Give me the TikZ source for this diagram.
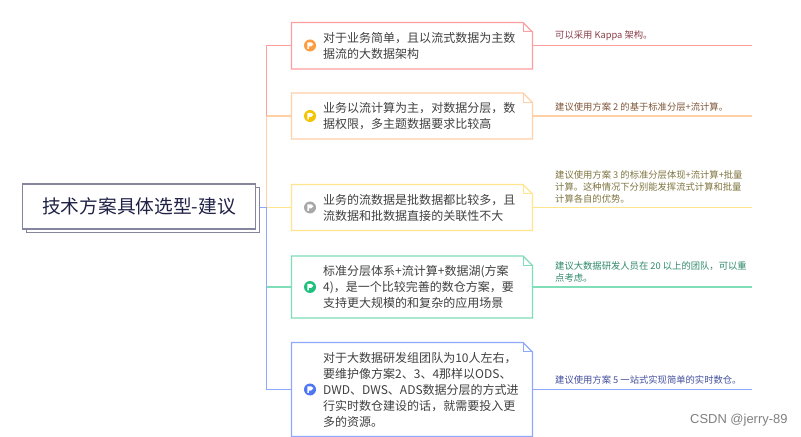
\documentclass[tikz,border=0pt]{standalone}
\usepackage{fontspec}
\setmainfont{Noto Sans CJK SC}
\newfontfamily\wmfont{Liberation Sans}
\definecolor{cpink}{HTML}{FF9E9E}
\definecolor{corange}{HTML}{FFCFA6}
\definecolor{cyellow}{HTML}{FFE68C}
\definecolor{cgreen}{HTML}{7FDDB8}
\definecolor{cblue}{HTML}{8FA8FF}
\definecolor{ipink}{HTML}{FF9C40}
\definecolor{iorange}{HTML}{F5C400}
\definecolor{iyellow}{HTML}{A8A8A8}
\definecolor{igreen}{HTML}{1FBF7C}
\definecolor{iblue}{HTML}{4F76F5}
\definecolor{tpink}{HTML}{8A3F4A}
\definecolor{torange}{HTML}{80573A}
\definecolor{tyellow}{HTML}{807540}
\definecolor{tgreen}{HTML}{2F8A6A}
\definecolor{tblue}{HTML}{44509E}
\definecolor{tmain}{HTML}{404040}
\definecolor{troot}{HTML}{1F2245}
\definecolor{rootline}{HTML}{85869E}
\tikzset{
  x=1bp,y=-1bp,
  boxanchor/.style={minimum width=241bp,minimum height=#1,inner sep=0pt,anchor=north west,outer sep=0pt},
  maintext/.style={anchor=west,align=left,inner sep=0pt,text=tmain,font=\fontsize{12.05}{16.05}\selectfont},
  sidetext/.style={anchor=south west,align=left,inner sep=0pt,font=\fontsize{9.35}{12}\selectfont},
  conn/.style={line width=1.1bp},
  rootbox/.style={draw=rootline,line width=1.1bp,fill=white,minimum width=233bp,minimum height=45bp,inner sep=0pt,anchor=north west,text=troot,font=\fontsize{18.8}{22}\selectfont},
  flagdot/.style={circle,minimum size=12bp,inner sep=0pt,line width=0pt},
}
\newcommand{\dogbox}[2]{%
  \draw[#2,line width=1.2bp,fill=white]
    (#1.north west) -- ([xshift=-9.5bp]#1.north east) -- ([yshift=-9.5bp]#1.north east)
    -- (#1.south east) -- (#1.south west) -- cycle;
  \draw[#2,line width=1bp] ([xshift=-9.5bp]#1.north east) -- ([xshift=-9.5bp,yshift=-9.5bp]#1.north east) -- ([yshift=-9.5bp]#1.north east);
}
\newcommand{\flagicon}[3]{%
  \node[flagdot,fill=#2] (#1) at #3 {};
  \fill[white] ([xshift=-2.6bp,yshift=3.2bp]#1.center) -- ([xshift=1.2bp,yshift=3.2bp]#1.center)
    -- ([xshift=3.4bp,yshift=1.2bp]#1.center) -- ([xshift=1.2bp,yshift=-1bp]#1.center)
    -- ([xshift=-1.2bp,yshift=-1bp]#1.center) -- ([xshift=-1.2bp,yshift=-3.4bp]#1.center)
    -- ([xshift=-2.6bp,yshift=-3.4bp]#1.center) -- cycle;
}
\begin{document}
\begin{tikzpicture}
\useasboundingbox (0,0) rectangle (801,437);
\fill[white] (0,0) rectangle (801,437);
\coordinate (tk1) at (266.5,45.5);
\coordinate (tk2) at (266.5,116);
\coordinate (tk3) at (266.5,207.5);
\coordinate (tk4) at (266.5,287);
\coordinate (tk5) at (266.5,389.5);
\coordinate (e1) at (752,45.5);
\coordinate (e2) at (752,116);
\coordinate (e3) at (752,207.5);
\coordinate (e4) at (752,287);
\coordinate (e5) at (752,389.5);
\node[boxanchor=46.5bp] (b1) at (291.5,22.5) {};
\node[boxanchor=46bp] (b2) at (291.5,93) {};
\node[boxanchor=46bp] (b3) at (291.5,184.5) {};
\node[boxanchor=62bp] (b4) at (291.5,256) {};
\node[boxanchor=94bp] (b5) at (291.5,342.5) {};
\node[draw=rootline,line width=1.1bp,fill=white,minimum width=233bp,minimum height=45bp,inner sep=0pt,anchor=north west] (rs) at (25.5,187) {};
\node[rootbox] (root) at (22,183.5) {技术方案具体选型-建议};
\draw[conn,cblue] (rs.east|-tk3) -- (tk3);
\draw[conn,cyellow] (tk3) -- (b3.west|-tk3);
\draw[conn,corange] (tk3) -- (tk2);
\draw[conn,cpink] (tk2) -- (tk1) -- (b1.west|-tk1);
\draw[conn,corange] (tk2) -- (b2.west|-tk2);
\draw[conn,cblue] (tk3) -- (tk5) -- (b5.west|-tk5);
\draw[conn,cgreen] (tk4) -- (b4.west|-tk4);
\draw[conn,cpink] (b1.east|-e1) -- (e1);
\draw[conn,corange] (b2.east|-e2) -- (e2);
\draw[conn,cyellow] (b3.east|-e3) -- (e3);
\draw[conn,cgreen] (b4.east|-e4) -- (e4);
\draw[conn,cblue] (b5.east|-e5) -- (e5);
\dogbox{b1}{cpink}
\dogbox{b2}{corange}
\dogbox{b3}{cyellow}
\dogbox{b4}{cgreen}
\dogbox{b5}{cblue}
\flagicon{i1}{ipink}{(310,45.5)}
\flagicon{i2}{iorange}{(310,116)}
\flagicon{i3}{iyellow}{(310,207.5)}
\flagicon{i4}{igreen}{(310,287)}
\flagicon{i5}{iblue}{(310,389.5)}
\node[maintext] (m1) at (323,45.5) {对于业务简单，且以流式数据为主数\\据流的大数据架构};
\node[maintext] (m2) at (323,116) {业务以流计算为主，对数据分层，数\\据权限，多主题数据要求比较高};
\node[maintext] (m3) at (323,207.5) {业务的流数据是批数据都比较多，且\\流数据和批数据直接的关联性不大};
\node[maintext] (m4) at (323,287) {标准分层体系+流计算+数据湖(方案\\4)，是一个比较完善的数仓方案，要\\支持更大规模的和复杂的应用场景};
\node[maintext] (m5) at (323,389.5) {对于大数据研发组团队为10人左右，\\要维护像方案2、3、4那样以ODS、\\DWD、DWS、ADS数据分层的方式进\\行实时数仓建设的话，就需要投入更\\多的资源。};
\node[sidetext,text=tpink] (s1) at (555,41) {可以采用 Kappa 架构。};
\node[sidetext,text=torange] (s2) at (555,111.5) {建议使用方案 2 的基于标准分层+流计算。};
\node[sidetext,text=tyellow] (s3) at (555,203) {建议使用方案 3 的标准分层体现+流计算+批量\\计算。这种情况下分别能发挥流式计算和批量\\计算各自的优势。};
\node[sidetext,text=tgreen] (s4) at (555,282.5) {建议大数据研发人员在 20 以上的团队，可以重\\点考虑。};
\node[sidetext,text=tblue] (s5) at (555,385) {建议使用方案 5 一站式实现简单的实时数仓。};
\node[anchor=west,inner sep=0pt,text=black!50,font=\wmfont\fontsize{13}{14}\selectfont] (wm) at (690,420) {CSDN @jerry-89};
\end{tikzpicture}
\end{document}
